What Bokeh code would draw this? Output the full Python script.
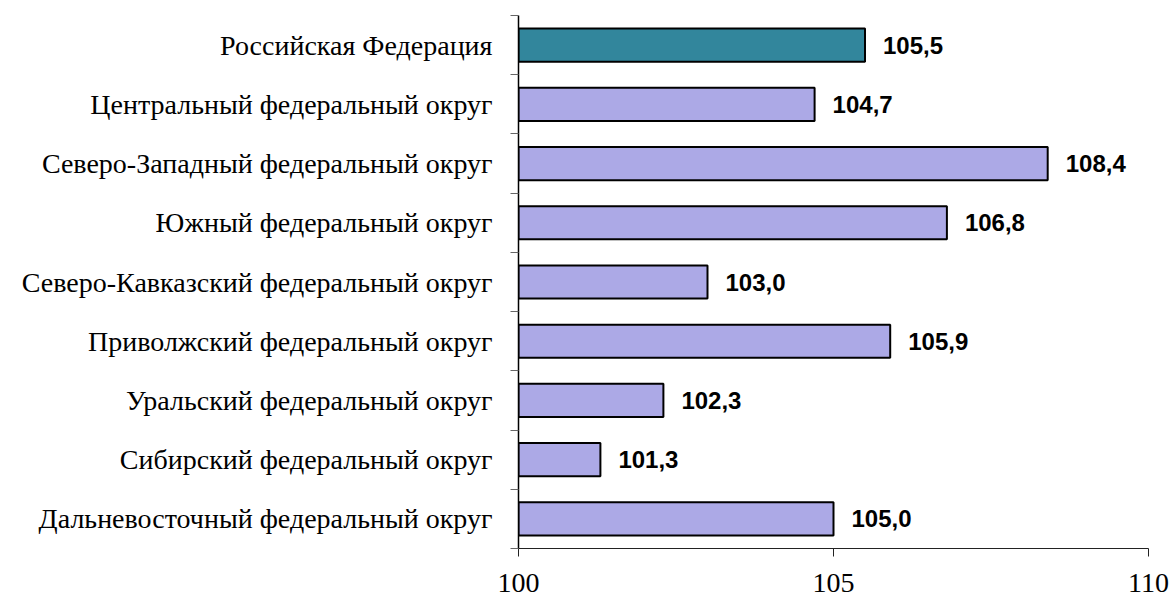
from bokeh.plotting import figure
from bokeh.models import ColumnDataSource, Range1d, FixedTicker, LinearAxis, Grid
from bokeh.core.properties import value
from bokeh.embed import file_html
from bokeh.resources import INLINE

categories = [
    "Российская Федерация",
    "Центральный федеральный округ",
    "Северо-Западный федеральный округ",
    "Южный федеральный округ",
    "Северо-Кавказский федеральный округ",
    "Приволжский федеральный округ",
    "Уральский федеральный округ",
    "Сибирский федеральный округ",
    "Дальневосточный федеральный округ",
]
values = [105.5, 104.7, 108.4, 106.8, 103.0, 105.9, 102.3, 101.3, 105.0]
labels = ["105,5", "104,7", "108,4", "106,8", "103,0", "105,9", "102,3", "101,3", "105,0"]
x_ticks = [100, 105, 110]
base = 100

colors = ["#32869C"] + ["#ACA9E6"] * (len(categories) - 1)
pos = list(range(len(categories)))

src = ColumnDataSource(dict(y=pos, v=values, lab=labels, c=colors, base=[base] * len(pos)))

p = figure(width=1170, height=597, output_backend="svg", toolbar_location=None,
           x_range=Range1d(100, 110), y_range=Range1d(len(categories) - 0.5, -0.5),
           x_axis_location=None, y_axis_location=None,
           min_border_left=518, min_border_right=22, min_border_top=15, min_border_bottom=49)
p.outline_line_color = None
p.background_fill_color = "white"

g = Grid(dimension=0, ticker=FixedTicker(ticks=[105, 110]), grid_line_color="#D4D4D4", grid_line_width=1)
p.add_layout(g)

p.hbar(y="y", left="base", right="v", height=0.56, source=src,
       fill_color="c", line_color="black", line_width=2)

p.text(x="v", y="y", text="lab", source=src, x_offset=18,
       text_font=value("Liberation Sans"), text_font_style="bold",
       text_font_size="24px", text_baseline="middle", text_align="left", text_color="black")

# x axis
xa = LinearAxis(ticker=FixedTicker(ticks=x_ticks))
xa.axis_line_color = "#222222"
xa.axis_line_width = 1
xa.major_tick_in = 0
xa.major_tick_out = 8
xa.major_tick_line_color = "#222222"
xa.minor_tick_line_color = None
xa.major_label_text_font = "Liberation Serif"
xa.major_label_text_font_size = "28px"
xa.major_label_text_color = "black"
xa.major_label_text_line_height = 0.7
xa.major_label_standoff = 17
p.add_layout(xa, "below")

# y axis: labels at centres, ticks at category boundaries
ya = LinearAxis(ticker=FixedTicker(ticks=pos, minor_ticks=[i - 0.5 for i in range(len(categories) + 1)]))
ya.major_label_overrides = {i: c for i, c in enumerate(categories)}
ya.axis_line_color = "black"
ya.axis_line_width = 1.5
ya.major_tick_in = 0
ya.major_tick_out = 0
ya.minor_tick_in = 0
ya.minor_tick_out = 8
ya.minor_tick_line_color = "#666666"
ya.major_label_text_font = "Liberation Serif"
ya.major_label_text_font_size = "28px"
ya.major_label_text_color = "black"
ya.major_label_standoff = 18
p.add_layout(ya, "left")

p.xgrid.grid_line_color = None
p.ygrid.grid_line_color = None

open("out.html", "w").write(file_html(p, INLINE))
